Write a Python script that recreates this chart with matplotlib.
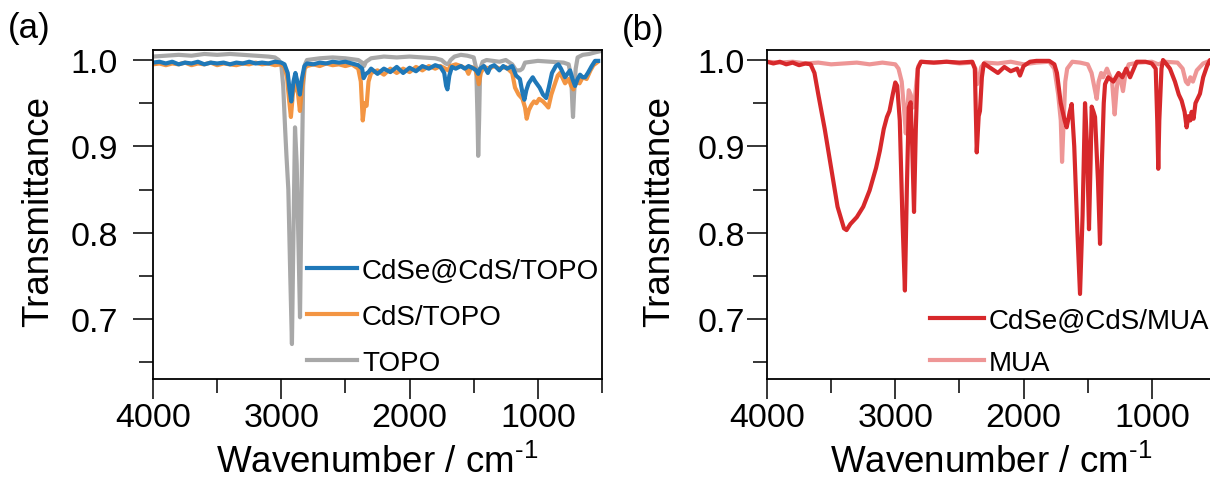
import matplotlib
matplotlib.use("Agg")
import matplotlib.pyplot as plt
from matplotlib.ticker import MultipleLocator, FormatStrFormatter

plt.rcParams['font.family'] = ['Liberation Sans', 'DejaVu Sans']
plt.rcParams['mathtext.fontset'] = 'custom'
plt.rcParams['mathtext.rm'] = 'Liberation Sans'
plt.rcParams['mathtext.default'] = 'regular'

# ---------------- Panel (a) data ----------------
topo_wn = [4000, 3900, 3800, 3700, 3600, 3500, 3400, 3300, 3200, 3100, 3050, 3020, 3000, 2985,
           2970, 2960, 2945, 2930, 2917, 2905, 2893, 2880, 2865, 2854, 2842, 2830, 2815, 2800,
           2700, 2600, 2500, 2400, 2370, 2355, 2340, 2300, 2200, 2100, 2000, 1900, 1800, 1750,
           1720, 1700, 1680, 1650, 1600, 1550, 1500, 1480, 1470, 1465, 1458, 1450, 1430, 1400,
           1300, 1250, 1200, 1170, 1140, 1120, 1100, 1000, 900, 800, 760, 740, 730, 726, 718,
           705, 690, 650, 600, 550, 520]
topo_t = [1.004, 1.005, 1.006, 1.005, 1.007, 1.006, 1.007, 1.006, 1.005, 1.004, 1.003, 1.000, 0.995, 0.970,
          0.920, 0.890, 0.850, 0.750, 0.671, 0.800, 0.922, 0.880, 0.780, 0.702, 0.850, 0.970, 0.995, 1.000,
          1.002, 1.003, 1.002, 1.000, 0.997, 0.993, 0.998, 1.002, 1.004, 1.003, 1.004, 1.003, 1.002, 1.000,
          0.996, 0.995, 1.000, 1.004, 1.006, 1.005, 1.003, 0.990, 0.930, 0.889, 0.930, 0.990, 0.998, 1.000,
          0.998, 1.000, 0.995, 0.988, 0.988, 0.990, 0.997, 0.999, 0.998, 0.997, 0.995, 0.980, 0.945, 0.934, 0.960,
          0.990, 1.003, 1.006, 1.007, 1.009, 1.010]

cds_wn = [4000, 3950, 3900, 3850, 3800, 3750, 3700, 3650, 3600, 3550, 3500, 3450, 3400, 3350, 3300,
          3250, 3200, 3150, 3100, 3050, 3000, 2975, 2955, 2940, 2925, 2910, 2893, 2870, 2855, 2840,
          2820, 2800, 2750, 2700, 2650, 2600, 2550, 2500, 2450, 2400, 2380, 2365, 2350, 2335, 2320,
          2300, 2250, 2200, 2150, 2100, 2050, 2000, 1950, 1900, 1850, 1800, 1760, 1720, 1700, 1680,
          1640, 1600, 1560, 1541, 1520, 1490, 1470, 1460, 1445, 1420, 1380, 1340, 1300, 1250, 1200,
          1178, 1150, 1120, 1100, 1087, 1070, 1050, 1030, 1011, 990, 960, 935, 918, 895, 866, 845,
          827, 810, 788, 760, 740, 723, 700, 675, 650, 620, 590, 567, 540]
cds_t = [0.995, 0.996, 0.994, 0.996, 0.995, 0.997, 0.994, 0.996, 0.995, 0.997, 0.994, 0.996, 0.995, 0.994, 0.996,
         0.995, 0.997, 0.995, 0.996, 0.994, 0.995, 0.992, 0.980, 0.955, 0.934, 0.960, 0.975, 0.962, 0.941, 0.965,
         0.990, 0.993, 0.995, 0.993, 0.996, 0.994, 0.995, 0.993, 0.995, 0.990, 0.975, 0.930, 0.950, 0.947, 0.975,
         0.985, 0.988, 0.983, 0.990, 0.985, 0.990, 0.986, 0.992, 0.988, 0.993, 0.990, 0.993, 0.990, 0.988, 0.993,
         0.995, 0.993, 0.990, 0.984, 0.992, 0.990, 0.980, 0.972, 0.985, 0.992, 0.990, 0.993, 0.990, 0.992, 0.985,
         0.968, 0.960, 0.955, 0.945, 0.932, 0.942, 0.948, 0.952, 0.950, 0.955, 0.952, 0.948, 0.945, 0.960, 0.973, 0.982,
         0.985, 0.980, 0.973, 0.978, 0.970, 0.966, 0.975, 0.973, 0.980, 0.978, 0.988, 0.994, 0.997]

core_wn = [4000, 3950, 3900, 3850, 3800, 3750, 3700, 3650, 3600, 3550, 3500, 3450, 3400, 3350, 3300,
           3250, 3200, 3150, 3100, 3050, 3000, 2975, 2950, 2935, 2922, 2905, 2890, 2870, 2855, 2840,
           2820, 2800, 2750, 2700, 2650, 2600, 2550, 2500, 2450, 2400, 2370, 2358, 2340, 2320, 2300,
           2250, 2200, 2150, 2100, 2050, 2000, 1950, 1900, 1850, 1800, 1760, 1730, 1715, 1705, 1690,
           1670, 1640, 1600, 1570, 1540, 1500, 1480, 1465, 1450, 1420, 1390, 1370, 1340, 1300, 1270,
           1240, 1200, 1170, 1140, 1120, 1105, 1090, 1072, 1040, 1020, 986, 960, 935, 915, 890, 860,
           840, 820, 788, 770, 749, 730, 710, 690, 671, 650, 632, 610, 580, 554, 530]
core_t = [0.997, 0.998, 0.996, 0.998, 0.995, 0.997, 0.996, 0.998, 0.995, 0.997, 0.996, 0.997, 0.995, 0.997, 0.996,
          0.998, 0.996, 0.997, 0.996, 0.998, 0.997, 0.995, 0.985, 0.965, 0.952, 0.975, 0.985, 0.972, 0.960, 0.978,
          0.993, 0.996, 0.995, 0.997, 0.996, 0.998, 0.997, 0.998, 0.996, 0.994, 0.990, 0.979, 0.984, 0.986, 0.990,
          0.984, 0.990, 0.986, 0.992, 0.985, 0.991, 0.987, 0.993, 0.990, 0.994, 0.992, 0.985, 0.970, 0.966, 0.982,
          0.992, 0.990, 0.993, 0.990, 0.993, 0.990, 0.988, 0.984, 0.990, 0.993, 0.985, 0.992, 0.994, 0.988, 0.993,
          0.990, 0.993, 0.982, 0.978, 0.962, 0.954, 0.965, 0.973, 0.980, 0.975, 0.968, 0.960, 0.956, 0.968, 0.985, 0.993,
          0.995, 0.990, 0.980, 0.984, 0.988, 0.978, 0.970, 0.978, 0.983, 0.980, 0.980, 0.985, 0.993, 0.999, 0.999]

# ---------------- Panel (b) data ----------------
mua_wn = [4000, 3900, 3800, 3700, 3600, 3500, 3400, 3300, 3200, 3100, 3000, 2975, 2950, 2930, 2918,
          2905, 2895, 2880, 2860, 2850, 2835, 2820, 2800, 2700, 2600, 2500, 2400, 2375, 2362, 2345,
          2330, 2300, 2200, 2100, 2000, 1900, 1800, 1760, 1730, 1710, 1700, 1690, 1675, 1660, 1620,
          1560, 1500, 1470, 1450, 1430, 1415, 1395, 1380, 1350, 1310, 1290, 1275, 1260, 1240, 1225,
          1205, 1180, 1100, 1000, 950, 900, 800, 760, 735, 718, 700, 680, 650, 600, 550, 500]
mua_t = [0.998, 0.997, 0.998, 0.996, 0.997, 0.995, 0.996, 0.997, 0.995, 0.997, 0.995, 0.990, 0.975, 0.940, 0.915,
         0.945, 0.965, 0.960, 0.945, 0.950, 0.975, 0.993, 0.998, 0.997, 0.998, 0.996, 0.997, 0.990, 0.972, 0.980,
         0.992, 0.997, 0.996, 0.998, 0.995, 0.997, 0.998, 0.990, 0.960, 0.930, 0.882, 0.920, 0.975, 0.990, 0.998,
         0.997, 0.995, 0.985, 0.970, 0.955, 0.975, 0.985, 0.980, 0.990, 0.975, 0.937, 0.965, 0.984, 0.975, 0.964,
         0.985, 0.995, 0.997, 0.998, 0.995, 0.998, 0.997, 0.990, 0.975, 0.972, 0.980, 0.975, 0.988, 0.996, 0.999, 1.000]

muaqd_wn = [4000, 3950, 3900, 3850, 3800, 3750, 3700, 3660, 3630, 3600, 3550, 3500, 3450, 3400, 3380,
            3350, 3300, 3250, 3200, 3150, 3120, 3090, 3065, 3045, 3020, 3000, 2985, 2965, 2945, 2925,
            2910, 2895, 2880, 2868, 2854, 2840, 2825, 2800, 2700, 2600, 2500, 2400, 2380, 2365, 2350,
            2340, 2325, 2310, 2250, 2200, 2150, 2100, 2050, 2028, 2000, 1950, 1900, 1800, 1760, 1740,
            1710, 1680, 1664, 1640, 1625, 1605, 1580, 1560, 1540, 1521, 1505, 1490, 1478, 1469, 1455,
            1443, 1420, 1404, 1390, 1375, 1365, 1340, 1300, 1260, 1230, 1200, 1170, 1118, 1050, 1000,
            970, 958, 950, 942, 925, 913, 890, 859, 820, 790, 768, 745, 729, 715, 700, 690, 675, 660,
            625, 600, 570, 547, 500]
muaqd_t = [0.998, 0.996, 0.998, 0.995, 0.997, 0.994, 0.996, 0.995, 0.985, 0.960, 0.920, 0.875, 0.830, 0.805, 0.803,
           0.810, 0.818, 0.830, 0.849, 0.875, 0.895, 0.920, 0.934, 0.941, 0.960, 0.974, 0.970, 0.930, 0.820, 0.733,
           0.850, 0.945, 0.951, 0.900, 0.824, 0.920, 0.990, 0.998, 0.997, 0.998, 0.997, 0.998, 0.990, 0.893, 0.935,
           0.941, 0.980, 0.996, 0.990, 0.985, 0.992, 0.987, 0.990, 0.982, 0.993, 0.998, 0.999, 0.999, 0.995, 0.985,
           0.950, 0.930, 0.922, 0.940, 0.949, 0.900, 0.800, 0.729, 0.820, 0.950, 0.900, 0.804, 0.880, 0.946, 0.940,
           0.934, 0.860, 0.787, 0.880, 0.950, 0.972, 0.980, 0.975, 0.985, 0.980, 0.990, 0.980, 0.998, 0.998, 0.996,
           0.990, 0.930, 0.874, 0.930, 0.990, 1.000, 0.996, 0.990, 0.975, 0.960, 0.953, 0.940, 0.922, 0.935, 0.930, 0.940, 0.932, 0.950,
           0.961, 0.980, 0.993, 1.000, 1.000]

labels_a = ['CdSe@CdS/TOPO', 'CdS/TOPO', 'TOPO']
labels_b = ['CdSe@CdS/MUA', 'MUA']
c_blue, c_orange, c_gray = '#1f78b8', '#f28a2e', '#a8a8a8'
c_red, c_pink = '#d7282b', '#ee9696'

W, H = 1210, 489
fig = plt.figure(figsize=(W / 100, H / 100), dpi=100)

def px_axes(l, r, t, b):
    return fig.add_axes([l / W, (H - b) / H, (r - l) / W, (b - t) / H])

ax1 = px_axes(153, 602, 51, 380)
ax2 = px_axes(767, 1216, 51, 380)

lw = 3.0
l_topo, = ax1.plot(topo_wn, topo_t, color=c_gray, lw=lw, label=labels_a[2])
l_cds, = ax1.plot(cds_wn, cds_t, color=c_orange, lw=lw, alpha=0.9, label=labels_a[1])
l_core, = ax1.plot(core_wn, core_t, color=c_blue, lw=lw, label=labels_a[0])

l_mua, = ax2.plot(mua_wn, mua_t, color=c_pink, lw=lw, label=labels_b[1])
l_qd, = ax2.plot(muaqd_wn, muaqd_t, color=c_red, lw=lw, label=labels_b[0])

xlabel = r'Wavenumber / cm$^{\text{-1}}$'
for ax, ypad in ((ax1, 10.8), (ax2, 1.5)):
    ax.set_xlim(4000, 500)
    ax.set_ylim(0.6305, 1.0116)
    ax.xaxis.set_major_locator(MultipleLocator(1000))
    ax.xaxis.set_minor_locator(MultipleLocator(500))
    ax.yaxis.set_major_locator(MultipleLocator(0.1))
    ax.yaxis.set_minor_locator(MultipleLocator(0.05))
    ax.yaxis.set_major_formatter(FormatStrFormatter('%.1f'))
    ax.tick_params(which='major', direction='out', length=14.5, width=1.1, labelsize=24.5)
    ax.tick_params(which='minor', direction='out', length=10, width=1.1)
    ax.tick_params(axis='x', which='major', pad=2)
    ax.tick_params(axis='y', which='major', pad=ypad)
    for s in ax.spines.values():
        s.set_linewidth(1.3)
    ax.set_xlabel(xlabel, fontsize=26.5, labelpad=8)
    ax.set_ylabel('Transmittance', fontsize=26.5)

ax1.yaxis.set_label_coords((56 - 153) / 449, 0.512)
ax2.yaxis.set_label_coords((677 - 767) / 449, 0.512)

leg_kw = dict(frameon=False, fontsize=20, borderpad=0, borderaxespad=0,
              loc='lower left', bbox_transform=fig.transFigure)
ax1.legend([l_core, l_cds, l_topo], labels_a, handlelength=1.8, handletextpad=0.18,
           labelspacing=0.72, bbox_to_anchor=(307 / W, (H - 377) / H), **leg_kw)
ax2.legend([l_qd, l_mua], labels_b, handlelength=1.95, handletextpad=0.15,
           labelspacing=0.58, bbox_to_anchor=(930 / W, (H - 377) / H), **leg_kw)

fig.text(8 / W, 1 - 12 / H, '(a)', fontsize=25, ha='left', va='top')
fig.text(622 / W, 1 - 14 / H, '(b)', fontsize=25, ha='left', va='top')

fig.savefig('out.png', dpi=100)
